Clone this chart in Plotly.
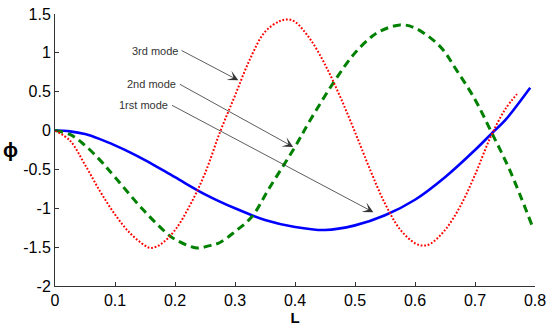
import plotly.graph_objects as go

# 1st mode (blue solid)
L1 = [0, 0.025, 0.05, 0.075, 0.1, 0.125, 0.15, 0.2, 0.25, 0.3, 0.35, 0.4, 0.45, 0.5,
      0.55, 0.6, 0.65, 0.7, 0.73, 0.75, 0.792]
phi1 = [0, -0.01, -0.045, -0.11, -0.19, -0.28, -0.38, -0.60, -0.82, -1.00, -1.15, -1.24,
        -1.28, -1.22, -1.09, -0.89, -0.60, -0.25, -0.02, 0.13, 0.55]

# 2nd mode (green dashed)
L2 = [0, 0.025, 0.047, 0.075, 0.1, 0.147, 0.186, 0.2, 0.236, 0.258, 0.275, 0.3, 0.328,
      0.358, 0.4, 0.425, 0.467, 0.5, 0.528, 0.542, 0.575, 0.6, 0.642, 0.669, 0.7,
      0.728, 0.758, 0.795]
phi2 = [0, -0.05, -0.17, -0.38, -0.6, -1.02, -1.32, -1.40, -1.51, -1.48, -1.44, -1.30,
        -1.11, -0.73, -0.21, 0.13, 0.65, 1.0, 1.21, 1.28, 1.36, 1.32, 1.08, 0.78, 0.4,
        -0.03, -0.51, -1.22]

# 3rd mode (red dotted)
L3 = [0, 0.025, 0.05, 0.075, 0.1, 0.125, 0.15, 0.16, 0.175, 0.2, 0.225, 0.25, 0.275,
      0.3, 0.325, 0.35, 0.375, 0.388, 0.4, 0.425, 0.45, 0.475, 0.5, 0.525, 0.55, 0.575,
      0.6, 0.613, 0.625, 0.65, 0.675, 0.7, 0.725, 0.75, 0.77]
phi3 = [0, -0.13, -0.44, -0.78, -1.08, -1.32, -1.48, -1.51, -1.47, -1.28, -0.96, -0.55,
        -0.02, 0.45, 0.92, 1.27, 1.41, 1.43, 1.40, 1.18, 0.85, 0.44, -0.02, -0.50, -0.94,
        -1.27, -1.45, -1.48, -1.46, -1.28, -0.98, -0.57, -0.10, 0.27, 0.47]

x_ticks = [0, 0.1, 0.2, 0.3, 0.4, 0.5, 0.6, 0.7, 0.8]
x_tick_text = ["0", "0.1", "0.2", "0.3", "0.4", "0.5", "0.6", "0.7", "0.8"]
y_ticks = [-2, -1.5, -1, -0.5, 0, 0.5, 1, 1.5]
y_tick_text = ["-2", "-1.5", "-1", "-0.5", "0", "0.5", "1", "1.5"]

# annotation labels: (text, tail L, tail phi, head L, head phi)
ann_text = ["3rd mode", "2nd mode", "1rst mode"]
ann_tail_L = [0.211, 0.208, 0.195]
ann_tail_phi = [1.03, 0.596, 0.325]
ann_head_L = [0.3055, 0.397, 0.5306]
ann_head_phi = [0.647, -0.21, -1.05]

FONT = "Liberation Sans, Arial, sans-serif"

fig = go.Figure()
fig.add_trace(go.Scatter(x=L1, y=phi1, mode="lines", name="1st mode",
                         line=dict(color="#0000FF", width=2.6, shape="spline", smoothing=1)))
fig.add_trace(go.Scatter(x=L2, y=phi2, mode="lines", name="2nd mode",
                         line=dict(color="#008000", width=3, dash="8px,5px", shape="spline", smoothing=1)))
fig.add_trace(go.Scatter(x=L3, y=phi3, mode="lines", name="3rd mode",
                         line=dict(color="#FF0000", width=2, dash="1.8px,1.8px", shape="spline", smoothing=1)))

for t, tx, ty, hx, hy in zip(ann_text, ann_tail_L, ann_tail_phi, ann_head_L, ann_head_phi):
    fig.add_annotation(x=hx, y=hy, ax=tx, ay=ty, xref="x", yref="y", axref="x", ayref="y",
                       text=t, showarrow=True, arrowhead=3, arrowsize=2.2, arrowwidth=0.8,
                       arrowcolor="#333333", xanchor="right", yanchor="middle", borderpad=3,
                       font=dict(family=FONT, size=11, color="#333333"))

fig.add_annotation(x=-0.092, y=-0.25, xref="paper", yref="y", text="<b>ϕ</b>",
                   xanchor="center", yanchor="middle",
                   showarrow=False, font=dict(family=FONT, size=20, color="black"))

axis_common = dict(showgrid=False, zeroline=False, showline=True, linecolor="#333333",
                   linewidth=1, ticks="inside", ticklen=4, tickcolor="#333333", mirror=False,
                   automargin=False,
                   tickfont=dict(family=FONT, size=16, color="black"))

fig.update_layout(
    width=550, height=328,
    margin=dict(l=55, r=15, t=14, b=42),
    paper_bgcolor="white", plot_bgcolor="white",
    showlegend=False,
    xaxis=dict(range=[0, 0.8], tickvals=x_ticks, ticktext=x_tick_text,
               title=dict(text="<b>L</b>", standoff=2,
                          font=dict(family=FONT, size=15, color="black")),
               **axis_common),
    yaxis=dict(range=[-2, 1.5], tickvals=y_ticks, ticktext=y_tick_text, **axis_common),
)

fig.write_html("out.html", config={"displayModeBar": False},
               post_script="document.body.style.margin='0';")
